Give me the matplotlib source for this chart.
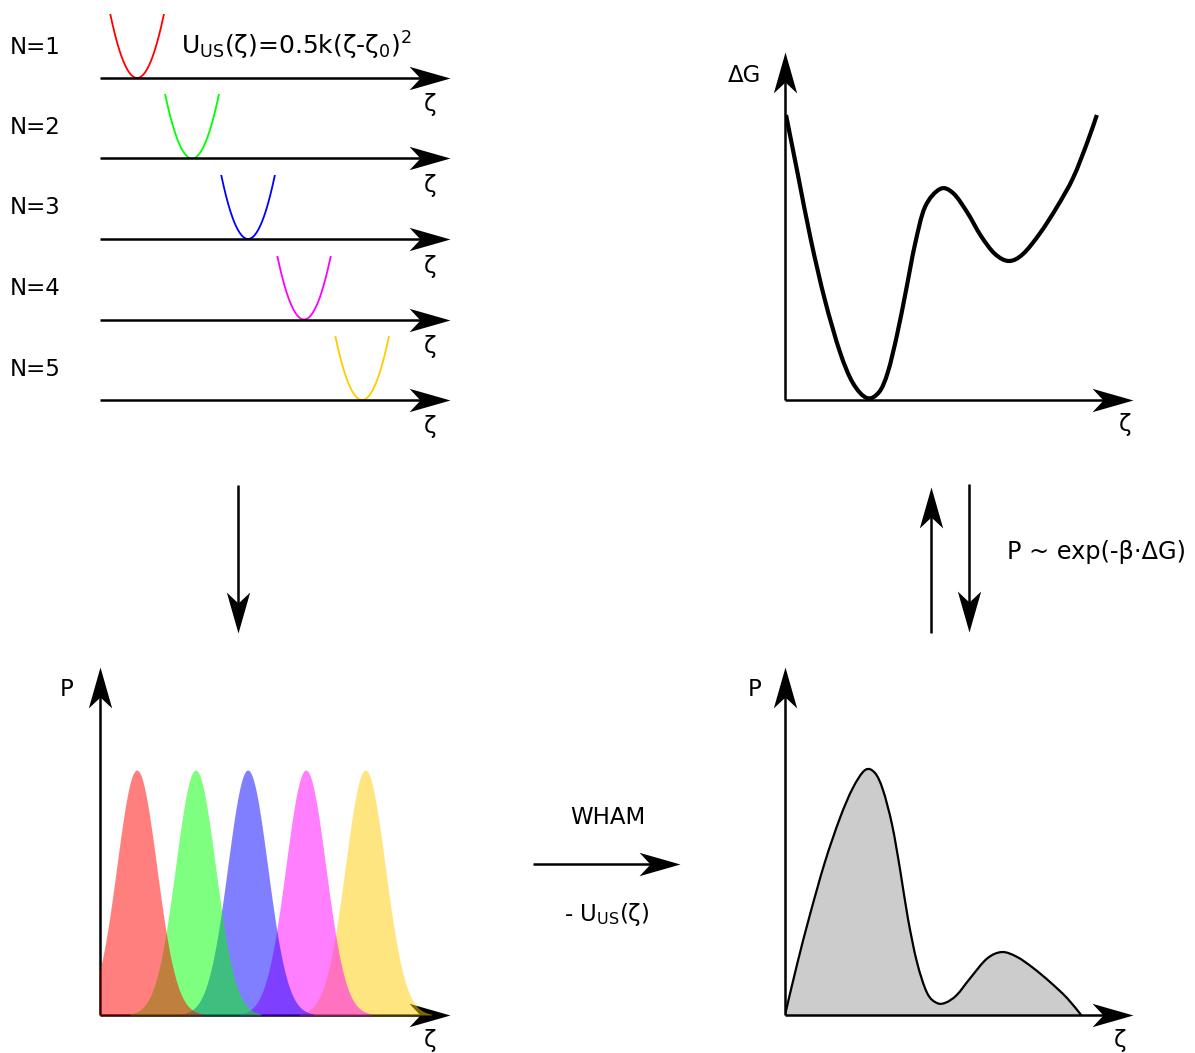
import numpy as np
import matplotlib
matplotlib.use('Agg')
import matplotlib.pyplot as plt
from matplotlib.path import Path
from matplotlib.patches import PathPatch

# umbrella windows (top left)
window_labels = ['N=1', 'N=2', 'N=3', 'N=4', 'N=5']
window_centers = [1.06, 2.63, 4.23, 5.83, 7.49]
window_colors = ['#ff0000', '#00ff00', '#0000ff', '#ff00ff', '#ffcc00']
spring_k = 3.4

# biased histograms (bottom left)
hist_centers = [1.05, 2.73, 4.22, 5.88, 7.58]
hist_sigma = 0.57

# free energy profile (top right)
dg_zeta = [0.03, 0.37, 0.74, 1.14, 1.57, 1.94, 2.34, 2.69, 2.94, 3.20, 3.46, 3.71,
           4.00, 4.43, 4.80, 5.20, 5.60, 6.00, 6.40, 6.80, 7.29, 7.77, 8.23, 8.63, 8.91]
dg_values = [5.70, 4.50, 3.20, 2.00, 0.96, 0.34, 0.04, 0.16, 0.56, 1.30, 2.20, 3.10,
             3.86, 4.22, 4.14, 3.76, 3.28, 2.92, 2.78, 2.92, 3.34, 3.86, 4.44, 5.14, 5.70]

# unbiased distribution (bottom right)
p_zeta = [0.0, 0.34, 0.71, 1.14, 1.57, 1.94, 2.29, 2.57, 2.80, 3.06, 3.29, 3.51,
          3.77, 4.06, 4.34, 4.60, 4.91, 5.29, 5.77, 6.20, 6.63, 7.09, 7.57, 8.06, 8.46]
p_values = [0.0, 0.204, 0.408, 0.624, 0.804, 0.927, 1.0, 0.988, 0.918, 0.776, 0.592, 0.396,
            0.216, 0.090, 0.049, 0.051, 0.082, 0.150, 0.230, 0.257, 0.237, 0.192, 0.135,
            0.069, 0.0]

W, H = 1195, 1053
FS = 16.5
ZPX = 35.0  # pixels per zeta unit

fig = plt.figure(figsize=(W / 100, H / 100), dpi=100)


def panel(x0, y0, x1, y1, xlim, ylim):
    ax = fig.add_axes([x0 / W, 1 - y1 / H, (x1 - x0) / W, (y1 - y0) / H])
    ax.set_xlim(*xlim)
    ax.set_ylim(*ylim)
    ax.axis('off')
    return ax


def head(angle):
    v = np.array([[0, 0], [-41, 11.7], [-30, 0], [-41, -11.7], [0, 0]], float)
    a = np.deg2rad(angle)
    rot = np.array([[np.cos(a), -np.sin(a)], [np.sin(a), np.cos(a)]])
    return Path(v @ rot.T, [Path.MOVETO, Path.LINETO, Path.LINETO, Path.LINETO, Path.CLOSEPOLY])


def arrow(ax, start, tip, lw=1.8):
    t = ax.transData
    p0 = t.transform(start)
    p1 = t.transform(tip)
    d = p1 - p0
    u = d / np.hypot(*d)
    end = t.inverted().transform(p1 - u * 14)
    ax.plot([start[0], end[0]], [start[1], end[1]], color='k', lw=lw,
            solid_capstyle='butt', clip_on=False)
    ang = np.degrees(np.arctan2(u[1], u[0]))
    ax.plot([tip[0]], [tip[1]], marker=head(ang), ms=59, mew=0, color='k',
            linestyle='none', clip_on=False)


def smooth(x, y, close_to_base=False):
    # catmull-rom through the read points, drawn as cubic bezier segments
    p = np.column_stack([x, y]).astype(float)
    ext = np.vstack([p[0], p, p[-1]])
    verts = [p[0]]
    codes = [Path.MOVETO]
    for i in range(1, len(ext) - 2):
        c1 = ext[i] + (ext[i + 1] - ext[i - 1]) / 6
        c2 = ext[i + 1] - (ext[i + 2] - ext[i]) / 6
        verts += [c1, c2, ext[i + 1]]
        codes += [Path.CURVE4] * 3
    if close_to_base:
        verts += [[p[-1][0], 0], [p[0][0], 0], p[0]]
        codes += [Path.LINETO, Path.LINETO, Path.CLOSEPOLY]
    return Path(np.array(verts), codes)


# overlay in pixel coordinates for labels and connecting arrows
ov = fig.add_axes([0, 0, 1, 1], zorder=-1)
ov.set_xlim(0, W)
ov.set_ylim(H, 0)
ov.axis('off')

# top left: windows
baselines = [78, 158.5, 239, 319.5, 400]
for i, (lab, z0, c) in enumerate(zip(window_labels, window_centers, window_colors)):
    yb = baselines[i]
    ax = panel(100, yb - 64, 450, yb, (0, 350 / ZPX), (0, 1))
    hw = np.sqrt(2 / spring_k)
    z = np.linspace(z0 - hw, z0 + hw, 200)
    ax.plot(z, 0.5 * spring_k * (z - z0) ** 2, color=c, lw=1.3)
    arrow(ax, (0, 0), (350 / ZPX, 0))
    ov.text(10, yb - 31, lab, fontsize=FS, ha='left', va='center')
    ov.text(430, yb + 27, 'ζ', fontsize=FS, ha='center', va='center')

ov.text(181, 46, r'U$_\mathregular{US}$(ζ)=0.5k(ζ-ζ$_\mathregular{0}$)$^\mathregular{2}$',
        fontsize=18, ha='left', va='center')

# top right: free energy
ax = panel(785, 52, 1133, 400, (0, 348 / ZPX), (0, 348 / 50))
ax.add_patch(PathPatch(smooth(dg_zeta, dg_values), fill=False, edgecolor='k', lw=3,
                       capstyle='butt', joinstyle='round'))
arrow(ax, (0, 0), (348 / ZPX, 0))
arrow(ax, (0, 0), (0, 348 / 50))
ov.text(744, 75, 'ΔG', fontsize=FS, ha='center', va='center')
ov.text(1125, 425, 'ζ', fontsize=FS, ha='center', va='center')

# bottom left: biased histograms
ax = panel(100, 667, 450, 1015, (0, 350 / ZPX), (0, 348 / 245))
zz = np.linspace(0, 350 / ZPX, 600)
for i in range(len(hist_centers) - 1, -1, -1):
    g = np.exp(-(zz - hist_centers[i]) ** 2 / (2 * hist_sigma ** 2))
    ax.fill_between(zz, 0, g, where=g > 0.004, color=window_colors[i], alpha=0.5, lw=0,
                    zorder=10 - i)
arrow(ax, (0, 0), (350 / ZPX, 0))
arrow(ax, (0, 0), (0, 348 / 245))
ov.text(67, 690, 'P', fontsize=FS, ha='center', va='center')
ov.text(430, 1040, 'ζ', fontsize=FS, ha='center', va='center')

# bottom right: unbiased distribution
ax = panel(785, 667, 1133, 1015, (0, 348 / ZPX), (0, 348 / 245))
ax.add_patch(PathPatch(smooth(p_zeta, p_values, close_to_base=True), facecolor='#cccccc',
                       edgecolor='none'))
ax.add_patch(PathPatch(smooth(p_zeta, p_values), fill=False, edgecolor='k', lw=1.6,
                       joinstyle='round'))
arrow(ax, (0, 0), (348 / ZPX, 0))
arrow(ax, (0, 0), (0, 348 / 245))
ov.text(755, 690, 'P', fontsize=FS, ha='center', va='center')
ov.text(1120, 1040, 'ζ', fontsize=FS, ha='center', va='center')

# connecting arrows
arrow(ov, (238, 485), (238, 633))
arrow(ov, (533, 864), (680, 864))
arrow(ov, (931, 633), (931, 487))
arrow(ov, (969, 484), (969, 632))
ov.text(608, 818, 'WHAM', fontsize=FS, ha='center', va='center')
ov.text(607, 914, r'- U$_\mathregular{US}$(ζ)', fontsize=FS, ha='center', va='center')
ov.text(1007, 552, 'P ~ exp(-β·ΔG)', fontsize=17.3, ha='left', va='center')

fig.savefig('out.png', dpi=100, facecolor='white')
